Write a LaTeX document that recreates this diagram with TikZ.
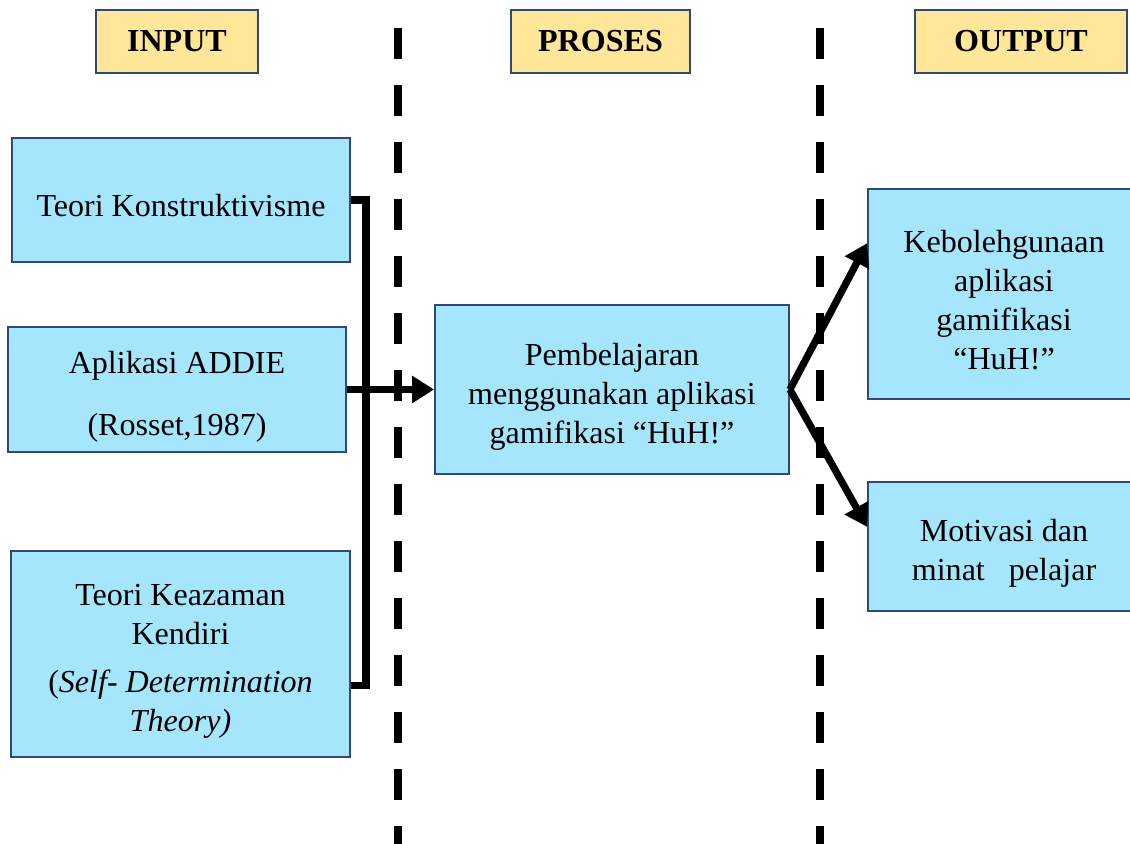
\documentclass[tikz,border=0pt]{standalone}
\usepackage{fontspec}
\setmainfont{Liberation Serif}
\usetikzlibrary{arrows.meta, calc}

\definecolor{boxblue}{HTML}{A6E6FC}
\definecolor{boxedge}{HTML}{2F4A78}
\definecolor{headyellow}{HTML}{FFE699}

\tikzset{
  bluebox/.style={draw=boxedge, fill=boxblue, line width=1.2pt, inner sep=0pt},
  boxtext/.style={align=center, inner sep=0pt, yshift=-0.18cm,
    font=\fontsize{22.8}{27.7}\selectfont},
  headbox/.style={draw=boxedge, fill=headyellow, line width=1.2pt, inner sep=0pt,
    minimum height=1.575cm, font=\fontsize{22.8}{27.7}\selectfont\bfseries},
  link/.style={line width=0.18cm},
  tip/.style={-{Triangle[length=0.55cm,width=0.65cm]}},
  divider/.style={line width=0.2cm, dash pattern=on 0.775cm off 0.65cm}
}

\begin{document}
\begin{tikzpicture}[x=0.025cm, y=-0.025cm]
\useasboundingbox (0,0) rectangle (1130,843);

% column dividers
\draw[divider] (398,28) -- (398,860);
\draw[divider] (820,28) -- (820,860);

% headings
\node[headbox, minimum width=4.05cm] (hinput) at (177,41.5) {INPUT};
\node[headbox, minimum width=4.475cm] (hproses) at (600.5,41.5) {PROSES};
\node[headbox, minimum width=5.3cm] (houtput) at (1021,41.5) {OUTPUT};

% input
\node[bluebox, minimum width=8.45cm, minimum height=3.1cm,
  label={[boxtext, yshift=0.05cm]center:Teori Konstruktivisme}] (konstr) at (181,200) {};
\node[bluebox, minimum width=8.45cm, minimum height=3.125cm,
  label={[boxtext]center:{Aplikasi ADDIE\\[0.56cm] (Rosset,1987)}}] (addie) at (177,389.5) {};
\node[bluebox, minimum width=8.475cm, minimum height=5.15cm,
  label={[boxtext]center:{Teori Keazaman\\ Kendiri\\[0.22cm] (\textit{Self- Determination}\\ \textit{Theory)}}}]
  (keazaman) at (180.5,654) {};

% proses
\node[bluebox, minimum width=8.85cm, minimum height=4.225cm,
  label={[boxtext]center:{Pembelajaran\\ menggunakan aplikasi\\ gamifikasi “HuH!”}}]
  (proses) at (612,389.5) {};

% output
\node[bluebox, minimum width=6.8cm, minimum height=5.25cm,
  label={[boxtext, yshift=0.02cm]center:{Kebolehgunaan\\ aplikasi\\ gamifikasi\\ “HuH!”}}]
  (kebo) at (1004,294) {};
\node[bluebox, minimum width=6.8cm, minimum height=3.225cm,
  label={[boxtext]center:{Motivasi dan\\ minat\ \ \ pelajar}}] (motivasi) at (1004,546.5) {};

% connectors
\coordinate (bus) at (366,389.5);
\draw[link] (konstr.east) -| (bus) |- ($(keazaman.south east)!0.35!(keazaman.north east)$);
\draw[link, tip] (addie.east) -- (proses.west);
\draw[link, tip] (proses.east) -- ($(kebo.north west)!0.26!(kebo.south west)$);
\draw[link, tip] (proses.east) -- ($(motivasi.north west)!0.35!(motivasi.south west)$);
\end{tikzpicture}
\end{document}
